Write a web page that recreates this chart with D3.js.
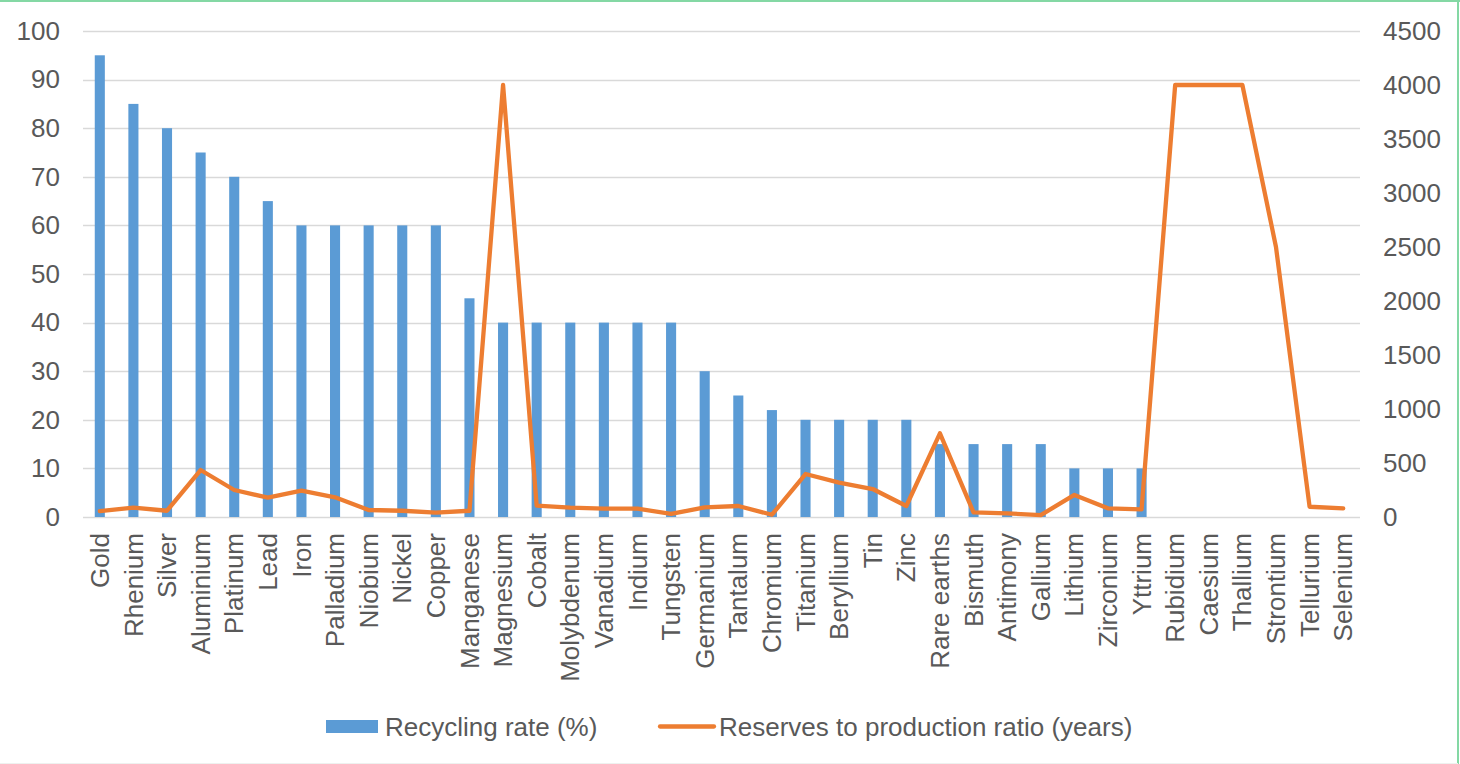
<!DOCTYPE html>
<html>
<head>
<meta charset="utf-8">
<script src="https://cdn.jsdelivr.net/npm/d3@7"></script>
<style>
  html, body { margin: 0; padding: 0; background: #fff; }
  svg { display: block; }
  text { font-family: "Liberation Sans", Arial, sans-serif; fill: #595959; }
</style>
</head>
<body>
<svg id="chart" width="1460" height="764"></svg>
<script>
// Metals, in the order they appear along the axis
const metals = ["Gold", "Rhenium", "Silver", "Aluminium", "Platinum", "Lead", "Iron", "Palladium",
  "Niobium", "Nickel", "Copper", "Manganese", "Magnesium", "Cobalt", "Molybdenum", "Vanadium",
  "Indium", "Tungsten", "Germanium", "Tantalum", "Chromium", "Titanium", "Beryllium", "Tin",
  "Zinc", "Rare earths", "Bismuth", "Antimony", "Gallium", "Lithium", "Zirconium", "Yttrium",
  "Rubidium", "Caesium", "Thallium", "Strontium", "Tellurium", "Selenium"];

// End-of-life recycling rate (%), null where no rate is given
const recyclingRate = [95, 85, 80, 75, 70, 65, 60, 60, 60, 60, 60, 45, 40, 40, 40, 40,
  40, 40, 30, 25, 22, 20, 20, 20, 20, 15, 15, 15, 15, 10, 10, 10,
  null, null, null, null, null, null];

// Reserves to production ratio (years)
const reservesRatio = [55, 86, 58, 435, 250, 179, 244, 182, 65, 58, 40, 58, 4000, 105, 86, 77,
  77, 28, 90, 102, 21, 398, 318, 259, 102, 775, 43, 34, 18, 204, 80, 71,
  4000, 4000, 4000, 2500, 95, 80];

const leftTicks = [0, 10, 20, 30, 40, 50, 60, 70, 80, 90, 100];
const rightTicks = [0, 500, 1000, 1500, 2000, 2500, 3000, 3500, 4000, 4500];

const seriesNames = ["Recycling rate (%)", "Reserves to production ratio (years)"];

const svg = d3.select("#chart");
const W = 1460, H = 764;
const plot = { left: 83, right: 1360, top: 31, bottom: 517 };

const blue = "#5B9BD5", orange = "#ED7D31", grid = "#D9D9D9";

// Frame edges
svg.append("line").attr("x1", 0).attr("x2", W).attr("y1", 1).attr("y2", 1)
  .attr("stroke", "#84d8a4").attr("stroke-width", 2);
svg.append("line").attr("x1", W - 2).attr("x2", W - 2).attr("y1", 0).attr("y2", H)
  .attr("stroke", "#84d8a4").attr("stroke-width", 2);
svg.append("line").attr("x1", 0).attr("x2", W - 2).attr("y1", H - 0.5).attr("y2", H - 0.5)
  .attr("stroke", "#eef1ef").attr("stroke-width", 1);

const x = d3.scaleBand().domain(metals).range([plot.left, plot.right]).padding(0);
const yL = d3.scaleLinear().domain([0, 100]).range([plot.bottom, plot.top]);
const yR = d3.scaleLinear().domain([0, 4500]).range([plot.bottom, plot.top]);

// Horizontal gridlines on the left scale
svg.append("g").selectAll("line").data(leftTicks).join("line")
  .attr("x1", plot.left).attr("x2", plot.right)
  .attr("y1", d => Math.round(yL(d)) + 0.5).attr("y2", d => Math.round(yL(d)) + 0.5)
  .attr("stroke", grid).attr("stroke-width", 1.3);

// Left axis labels
const leftAxis = d3.axisLeft(yL).tickValues(leftTicks).tickSize(0).tickPadding(0)
  .tickFormat(d3.format("d"));
const gL = svg.append("g").attr("transform", `translate(60,0)`).call(leftAxis);
gL.select(".domain").remove();
gL.selectAll("text").attr("font-size", 26).attr("fill", "#595959")
  .attr("font-family", "Liberation Sans, Arial, sans-serif");

// Right axis labels
const rightAxis = d3.axisRight(yR).tickValues(rightTicks).tickSize(0).tickPadding(0)
  .tickFormat(d3.format("d"));
const gR = svg.append("g").attr("transform", `translate(1383,0)`).call(rightAxis);
gR.select(".domain").remove();
gR.selectAll("text").attr("font-size", 26).attr("fill", "#595959")
  .attr("font-family", "Liberation Sans, Arial, sans-serif");

// Bars: recycling rate
const barW = x.bandwidth() * 0.3;
const barData = metals.map((m, i) => ({ m, v: recyclingRate[i] })).filter(d => d.v != null);
svg.append("g").selectAll("rect").data(barData).join("rect")
  .attr("x", d => x(d.m) + x.bandwidth() / 2 - barW / 2)
  .attr("y", d => yL(d.v))
  .attr("width", barW)
  .attr("height", d => yL(0) - yL(d.v))
  .attr("fill", blue);

// Line: reserves to production ratio
const line = d3.line()
  .x((d, i) => x(metals[i]) + x.bandwidth() / 2)
  .y(d => yR(d));
svg.append("path").datum(reservesRatio)
  .attr("d", line)
  .attr("fill", "none")
  .attr("stroke", orange)
  .attr("stroke-width", 4.3)
  .attr("stroke-linejoin", "round")
  .attr("stroke-linecap", "round");

// Category labels, rotated
svg.append("g").selectAll("text").data(metals).join("text")
  .attr("transform", d => `translate(${x(d) + x.bandwidth() / 2},533) rotate(-90)`)
  .attr("text-anchor", "end")
  .attr("dy", "0.35em")
  .attr("font-size", 26)
  .text(d => d);

// Legend
const lg = svg.append("g");
lg.append("rect").attr("x", 326).attr("y", 720).attr("width", 52).attr("height", 13).attr("fill", blue);
lg.append("text").attr("x", 385).attr("y", 735.5).attr("font-size", 26).text(seriesNames[0]);
lg.append("line").attr("x1", 660).attr("x2", 714).attr("y1", 726.5).attr("y2", 726.5)
  .attr("stroke", orange).attr("stroke-width", 4.3).attr("stroke-linecap", "round");
lg.append("text").attr("x", 719).attr("y", 735.5).attr("font-size", 26).text(seriesNames[1]);
</script>
</body>
</html>
